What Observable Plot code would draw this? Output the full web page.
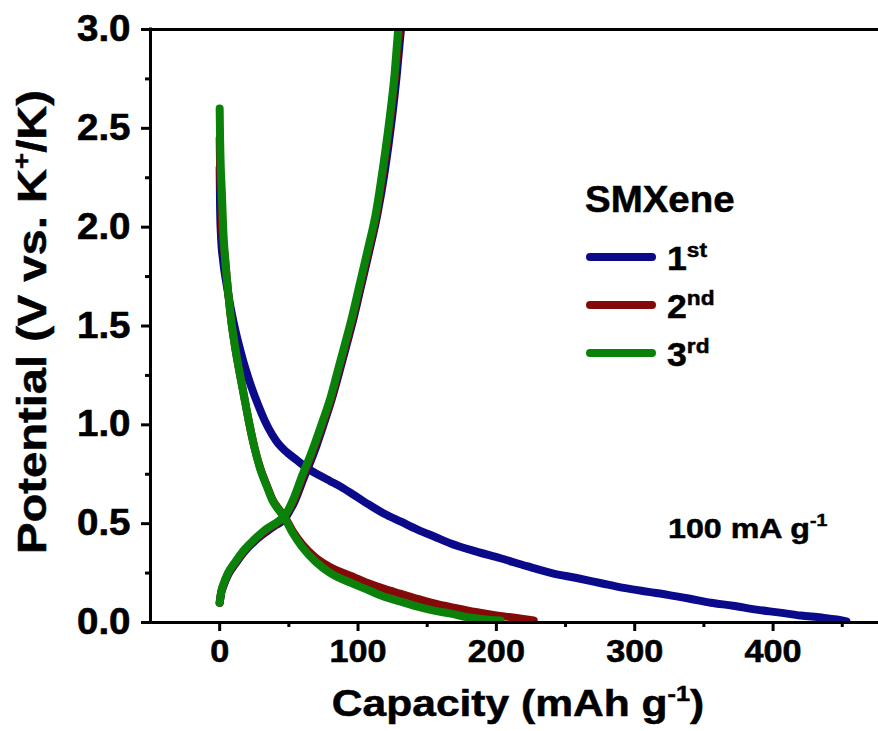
<!DOCTYPE html>
<html><head><meta charset="utf-8">
<script src="https://cdn.jsdelivr.net/npm/d3@7"></script>
<script src="https://cdn.jsdelivr.net/npm/@observablehq/plot@0.6"></script>
<style>body{margin:0;background:#fff;overflow:hidden} svg{display:block}</style>
</head><body><div id="chart"></div>
<script>
// ---- data (capacity mAh/g, potential V) ----
const cycles = ["1st", "2nd", "3rd"];
const cycleSup = [["1", "st"], ["2", "nd"], ["3", "rd"]];
const colors = ["#0a0a8a", "#840a0a", "#0a820a"];

const discharge1 = [[0,2.3],[0.3,2.1],[1,1.95],[2.5,1.83],[5,1.71],[8,1.59],[11.6,1.47],[15,1.375],[18.8,1.28],[23,1.19],[28.4,1.09],[33,1.015],[38,0.95],[41,0.918],[44,0.892],[47,0.871],[50,0.853],[56,0.82],[62,0.787],[68,0.76],[74,0.737],[80,0.715],[88,0.685],[96,0.65],[107,0.6],[119,0.55],[131,0.51],[143,0.47],[155,0.435],[167,0.40],[185,0.36],[203,0.325],[222,0.285],[240,0.25],[258,0.225],[275,0.2],[292,0.175],[310,0.155],[324,0.14],[340,0.12],[355,0.1],[371,0.085],[388,0.065],[405,0.05],[420,0.035],[435,0.025],[446,0.015],[453,0.005]];
const charge1 = [[0,0.10],[1,0.145],[3,0.19],[6,0.24],[11.6,0.3],[18,0.36],[25,0.41],[33,0.455],[40,0.49],[43.5,0.505],[47.5,0.53],[51,0.57],[54,0.61],[61,0.735],[66,0.82],[70,0.895],[76,1.02],[81,1.13],[86,1.255],[91,1.385],[97,1.545],[102,1.695],[108,1.875],[114,2.065],[119.5,2.29],[124.5,2.55],[128,2.77],[131,3.0]];

const discharge2 = [[0,2.45],[0.4,2.25],[1,2.15],[1.7,2.0],[3.8,1.85],[6,1.68],[8.3,1.53],[11,1.4],[14,1.28],[17.5,1.15],[21,1.02],[25,0.89],[29.6,0.775],[34,0.695],[38,0.625],[42,0.58],[46.5,0.54],[53,0.46],[59.8,0.395],[69,0.33],[80,0.28],[95,0.235],[107,0.2],[119,0.17],[131,0.145],[143,0.12],[155,0.097],[170,0.074],[185,0.053],[200,0.036],[212,0.025],[222,0.015],[227,0.01]];
const charge2 = [[0,0.10],[1,0.15],[3,0.195],[6,0.245],[11.6,0.305],[18,0.365],[25,0.415],[33,0.463],[40,0.495],[43,0.51],[46.8,0.533],[50.3,0.572],[53.5,0.615],[60.5,0.745],[65.5,0.83],[69.5,0.905],[75.5,1.025],[80.5,1.13],[85.5,1.26],[90.5,1.39],[96.5,1.55],[101.5,1.7],[107.5,1.88],[113.5,2.07],[118.5,2.3],[123.5,2.56],[127,2.78],[130,3.0]];

const discharge3 = [[0,2.6],[0.3,2.45],[0.8,2.3],[1.5,2.19],[2.5,2.0],[3.8,1.85],[6,1.68],[8.3,1.53],[11,1.4],[14,1.28],[17.5,1.15],[21,1.02],[25,0.89],[29.6,0.77],[34,0.69],[38,0.62],[42,0.575],[46.5,0.534],[53,0.45],[59.8,0.38],[69,0.31],[80,0.25],[95,0.2],[107,0.165],[119,0.13],[131,0.105],[143,0.08],[155,0.06],[167,0.045],[178,0.028],[190,0.017],[203,0.01]];
const charge3 = [[0,0.10],[1,0.15],[3,0.2],[6,0.25],[11.6,0.31],[18,0.37],[25,0.42],[33,0.47],[40,0.5],[43,0.515],[46.5,0.537],[50,0.575],[53,0.62],[60,0.75],[65,0.835],[69,0.91],[75,1.03],[80,1.135],[85,1.265],[90,1.395],[96,1.555],[101,1.705],[107,1.885],[113,2.075],[118,2.3],[123,2.56],[126.5,2.78],[129,3.0]];

const xDomain = [-50, 476.2];
const yDomain = [0, 3];
const xTicks = [0, 100, 200, 300, 400];
const xMinorTicks = [50, 150, 250, 350, 450];
const yTicks = [0, 0.5, 1, 1.5, 2, 2.5, 3];
const yMinorTicks = [0.25, 0.75, 1.25, 1.75, 2.25, 2.75];

// ---- build table ----
const series = [[discharge1, charge1], [discharge2, charge2], [discharge3, charge3]];
const rows = [];
series.forEach((pair, ci) => pair.forEach((pts, si) => pts.forEach(([cap, v]) =>
  rows.push({cycle: cycles[ci], seg: cycles[ci] + (si ? "-c" : "-d"), cap, v}))));

const font = "'Liberation Sans', Arial, sans-serif";
const lineMarks = cycles.map((c, i) => Plot.line(rows.filter(d => d.cycle === c), {
  x: "cap", y: "v", z: "seg", stroke: colors[i], strokeWidth: 8, curve: "monotone-x",
  strokeLinecap: "round", strokeLinejoin: "round", clip: true
}));

const plot = Plot.plot({
  width: 878, height: 731,
  marginLeft: 150, marginRight: 0, marginTop: 29, marginBottom: 109,
  x: {domain: xDomain, label: null},
  y: {domain: yDomain, label: null},
  style: {fontFamily: font, background: "white", color: "black", overflow: "hidden"},
  marks: [
    ...lineMarks,
    Plot.ruleX([xDomain[0]], {strokeWidth: 3, strokeLinecap: "square"}),
    Plot.ruleY(yDomain, {strokeWidth: 3, strokeLinecap: "square"}),
    Plot.axisX({ticks: xTicks, tickSize: 9, tickPadding: 8, strokeWidth: 3, fontSize: 32, fontWeight: "bold", label: null}),
    Plot.axisX({ticks: xMinorTicks, tickSize: 5, strokeWidth: 3, text: null, label: null}),
    Plot.axisY({ticks: yTicks, tickSize: 9, tickPadding: 11, strokeWidth: 3, fontSize: 36, fontWeight: "bold", tickFormat: d3.format(".1f"), label: null}),
    Plot.axisY({ticks: yMinorTicks, tickSize: 5, strokeWidth: 3, text: null, label: null})
  ]
});
document.getElementById("chart").append(plot);

const svg = d3.select(plot);
// widen tick labels slightly (reference font is wider than Arial) and thicken
svg.selectAll("g[aria-label='x-axis tick label'] text, g[aria-label='y-axis tick label'] text").each(function() {
  const t = this.getAttribute("transform") || "";
  this.setAttribute("transform", t + " scale(1.07,1)");
});
svg.selectAll("g[aria-label='x-axis tick label'], g[aria-label='y-axis tick label']")
  .attr("stroke", "black").attr("stroke-width", 0.6);

const ann = svg.append("g").attr("font-family", font).attr("font-weight", "bold")
  .attr("fill", "black").attr("stroke", "black").attr("stroke-width", 0.5);

// x title
const xt = ann.append("text").attr("text-anchor", "middle").attr("font-size", 37)
  .attr("transform", "translate(518,716) scale(1.15,1)");
xt.append("tspan").text("Capacity (mAh g");
xt.append("tspan").attr("font-size", 22).attr("dy", -15).text("-1");
xt.append("tspan").attr("dy", 15).text(")");

// y title
const yt = ann.append("text").attr("text-anchor", "middle").attr("font-size", 41)
  .attr("transform", "translate(46,322) rotate(-90) scale(1.15,1)");
yt.append("tspan").text("Potential (V vs. K");
yt.append("tspan").attr("font-size", 24).attr("dy", -16).text("+");
yt.append("tspan").attr("dy", 16).text("/K)");

// legend
ann.append("text").attr("text-anchor", "start").attr("font-size", 37)
  .attr("transform", "translate(585,212) scale(1.04,1)").text("SMXene");
cycles.forEach((c, i) => {
  const y = 257 + i * 48;
  ann.append("line").attr("x1", 590).attr("x2", 652).attr("y1", y).attr("y2", y)
    .attr("stroke", colors[i]).attr("stroke-width", 8).attr("stroke-linecap", "round");
  const t = ann.append("text").attr("text-anchor", "start").attr("font-size", 33)
    .attr("transform", `translate(667,${y + 13}) scale(1.08,1)`);
  t.append("tspan").text(cycleSup[i][0]);
  t.append("tspan").attr("font-size", 21).attr("dy", -13).text(cycleSup[i][1]);
});

// rate annotation
const rt = ann.append("text").attr("text-anchor", "start").attr("font-size", 28)
  .attr("transform", "translate(668,538) scale(1.15,1)");
rt.append("tspan").text("100 mA g");
rt.append("tspan").attr("font-size", 17).attr("dy", -12).text("-1");
</script>
</body></html>
